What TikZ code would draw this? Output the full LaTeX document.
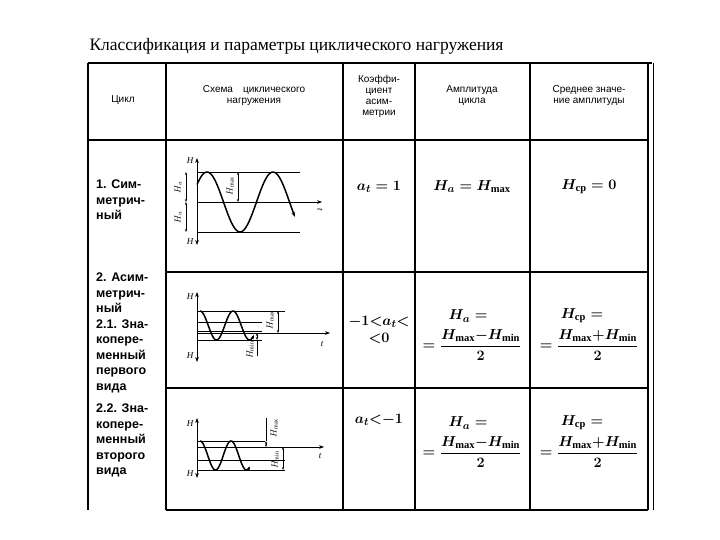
\documentclass[tikz,border=0pt]{standalone}
\usepackage{amsmath}
\usepackage{fontspec}
\setmainfont{Liberation Serif}
\newfontfamily\tsans{Liberation Sans}
\usetikzlibrary{arrows.meta}
\tikzset{
 tbl/.style={line width=1.4pt},
 thin/.style={line width=0.7pt},
 wave/.style={line width=1.5pt},
 hdr/.style={font=\tsans\fontsize{10}{11}\selectfont, align=center},
 cyc/.style={font=\tsans\bfseries\fontsize{12.5}{15.5}\selectfont, align=left, anchor=north west, inner sep=0pt},
 frm/.style={font=\bfseries\boldmath\fontsize{15}{17}\selectfont, align=center},
 lab/.style={font=\itshape\fontsize{9}{9}\selectfont, inner sep=1pt},
 dim/.style={line width=0.7pt, {Stealth[length=3pt]}-{Stealth[length=3pt]}},
 ax/.style={line width=1pt, -{Stealth[length=5pt]}},
}
\begin{document}
\begin{tikzpicture}[x=1pt,y=-1pt]
\useasboundingbox (0,0) rectangle (720,540);
\node[font=\fontsize{17.5}{20}\selectfont, anchor=west] (title) at (86,46) {Классификация и параметры циклического нагружения};
% table
\draw[tbl] (88,63) -- (652,63);
\draw[tbl] (88,63) -- (88,510);
\draw[tbl] (648,63) -- (648,510);
\draw[thin] (653,63) -- (653,510);
\draw[tbl] (166,63) -- (166,510);
\draw[tbl] (343,63) -- (343,510);
\draw[tbl] (415,63) -- (415,510);
\draw[tbl] (530,63) -- (530,510);
\draw[tbl] (88,140) -- (648,140);
\draw[tbl] (166,272) -- (648,272);
\draw[tbl] (166,388) -- (648,388);
\draw[tbl] (166,510) -- (648,510);
% header
\node[hdr] (h1) at (123,100) {Цикл};
\node[hdr] (h2) at (254,96) {Схема\quad циклического\\нагружения};
\node[hdr] (h3) at (379,96) {Коэффи-\\циент\\асим-\\метрии};
\node[hdr] (h4) at (472,96) {Амплитуда\\цикла};
\node[hdr] (h5) at (589,96) {Среднее значе-\\ние амплитуды};
% column 1
\node[cyc] (c1) at (96,180) {1. Сим-\\метрич-\\ный};
\node[cyc] (c2) at (96,273) {2. Асим-\\метрич-\\ный\\2.1. Зна-\\копере-\\менный\\первого\\вида};
\node[cyc] (c3) at (96,404) {2.2. Зна-\\копере-\\менный\\второго\\вида};
% row 1 formulas
\node[frm] (f1a) at (379,187) {$a_t=1$};
\node[frm] (f1b) at (472,187) {$H_a=H_{\max}$};
\node[frm] (f1c) at (589,187) {$H_{\mathrm{cp}}=0$};
% row 2.1
\node[frm] (f2a) at (379,330) {$-1{<}a_t{<}$\\${<}0$};
\node[frm] (f2b1) at (468,316) {$H_a=$};
\node[frm] (f2b2) at (472,345) {$=\dfrac{H_{\max}{-}H_{\min}}{2}$};
\node[frm] (f2c1) at (582,316) {$H_{\mathrm{cp}}=$};
\node[frm] (f2c2) at (589,345) {$=\dfrac{H_{\max}{+}H_{\min}}{2}$};
% row 2.2
\node[frm] (f3a) at (379,420) {$a_t{<}{-1}$};
\node[frm] (f3b1) at (468,423) {$H_a=$};
\node[frm] (f3b2) at (472,452) {$=\dfrac{H_{\max}{-}H_{\min}}{2}$};
\node[frm] (f3c1) at (582,423) {$H_{\mathrm{cp}}=$};
\node[frm] (f3c2) at (589,452) {$=\dfrac{H_{\max}{+}H_{\min}}{2}$};
% ---- graph 1
\draw[ax] (197,202) -- (197,158);
\draw[ax] (197,202) -- (197,245);
\node[lab] (H1) at (190,161) {H};
\node[lab] (H1b) at (190,242) {H};
\draw[thin] (197,172) -- (300,172);
\draw[thin] (197,232) -- (300,232);
\draw[ax, line width=0.7pt] (197,202) -- (322,202);
\node[lab, rotate=-90] (t1) at (320,210) {t};
\draw[wave, -{Stealth[length=5pt]}, domain=197:295, samples=80] plot (\x,{202-30*cos(360/66*(\x-207))});
\draw[dim] (238,172) -- (238,202);
\node[lab, rotate=90] (hm1) at (230,186) {$H_{\max}$};
\draw[dim] (186,172) -- (186,202);
\draw[dim] (186,202) -- (186,232);
\node[lab, rotate=90] (ha1) at (178,187) {$H_a$};
\node[lab, rotate=90] (ha2) at (178,217) {$H_a$};
% ---- graph 2
\draw[ax] (197,333) -- (197,292);
\draw[ax] (197,333) -- (197,362);
\node[lab] (H2) at (190,297) {H};
\node[lab] (H2b) at (190,356) {H};
\draw[thin] (197,311) -- (285,311);
\draw[thin] (197,322) -- (262,322);
\draw[thin] (197,340) -- (262,340);
\draw[thin] (197,331) -- (262,331);
\draw[ax, line width=0.7pt] (197,333) -- (330,333);
\node[lab] (t2) at (322,344) {t};
\draw[wave, -{Stealth[length=4pt]}, domain=200:254, samples=80] plot (\x,{325.5-14.5*cos(360/33*(\x-200))});
\draw[dim] (278,311) -- (278,333);
\node[lab, rotate=90] (hm2) at (270,320) {$H_{\max}$};
\draw[dim] (257,333) -- (257,340);
\draw[thin] (257,340) -- (257,356);
\node[lab, rotate=90] (hn2) at (250,350) {$H_{\min}$};
% ---- graph 3
\draw[ax] (197,447) -- (197,418);
\draw[ax] (197,447) -- (197,478);
\node[lab] (H3) at (190,424) {H};
\node[lab] (H3b) at (190,474) {H};
\draw[thin] (197,441) -- (265,441);
\draw[thin] (197,460) -- (285,460);
\draw[thin] (197,470) -- (285,470);
\draw[ax, line width=0.7pt] (197,447) -- (324,447);
\node[lab] (t3) at (320,456) {t};
\draw[wave, -{Stealth[length=4pt]}, domain=200:250, samples=80] plot (\x,{455.5-14.5*cos(360/31*(\x-200))});
\draw[thin] (266,418) -- (266,441);
\draw[dim] (266,441) -- (266,447);
\node[lab, rotate=90] (hm3) at (274,428) {$H_{\max}$};
\draw[dim] (283,447) -- (283,470);
\node[lab, rotate=90] (hn3) at (275,460) {$H_{\min}$};
\end{tikzpicture}
\end{document}
